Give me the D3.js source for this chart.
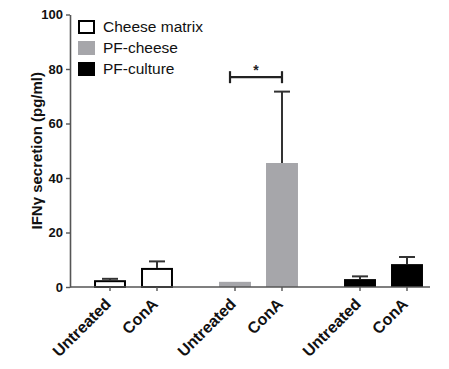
<!DOCTYPE html>
<html>
<head>
<meta charset="utf-8">
<script src="https://cdn.jsdelivr.net/npm/d3@7"></script>
<style>
  body { margin: 0; background: #fff; }
  text { font-family: "Liberation Sans", Arial, Helvetica, sans-serif; }
</style>
</head>
<body>
<svg id="chart" width="449" height="369"></svg>
<script>
// IFN-gamma secretion by treatment group (mean + SEM, pg/ml)
const groups = ["Cheese matrix", "PF-cheese", "PF-culture"];
const treatments = ["Untreated", "ConA"];
const cheeseMatrix = [2.5, 7.0];
const pfCheese = [1.9, 45.5];
const pfCulture = [2.9, 8.4];
const cheeseMatrixSem = [0.5, 2.4];
const pfCheeseSem = [0, 26.2];
const pfCultureSem = [1.0, 2.6];
const yTicks = [0, 20, 40, 60, 80, 100];
const bracketLevel = 77;   // height of the significance bracket

const groupColors = ["#ffffff", "#a6a6aa", "#000000"];
const groupStrokes = ["#000000", "none", "none"];

const seriesMeans = [cheeseMatrix, pfCheese, pfCulture];
const seriesSems = [cheeseMatrixSem, pfCheeseSem, pfCultureSem];

const rows = [];
groups.forEach((g, gi) => {
  treatments.forEach((t, ti) => {
    rows.push({ group: g, gi, treatment: t, mean: seriesMeans[gi][ti], sem: seriesSems[gi][ti] });
  });
});

const svg = d3.select("#chart");
const axisX = 70, axisEnd = 430;

const x0 = d3.scaleBand().domain(groups).range([71, 446]).paddingInner(0).paddingOuter(0);
const x1 = d3.scaleBand().domain(treatments).range([0, x0.bandwidth()])
  .paddingInner(0.32).paddingOuter(0.49);
const y = d3.scaleLinear().domain([0, 100]).range([287, 14.5]);

const cx = d => x0(d.group) + x1(d.treatment) + x1.bandwidth() / 2;
const axisColor = "#555";

// Bars
svg.append("g").selectAll("rect").data(rows).join("rect")
  .attr("x", d => x0(d.group) + x1(d.treatment) + (d.gi === 0 ? 1 : 0))
  .attr("width", d => x1.bandwidth() - (d.gi === 0 ? 2 : 0))
  .attr("y", d => y(d.mean) + (d.gi === 0 ? 1 : 0))
  .attr("height", d => y(0) - y(d.mean) - (d.gi === 0 ? 1 : 0))
  .attr("fill", d => groupColors[d.gi])
  .attr("stroke", d => groupStrokes[d.gi])
  .attr("stroke-width", 2);

// Error bars (upper only)
const err = svg.append("g").attr("stroke", "#333").attr("stroke-width", 2)
  .selectAll("g").data(rows.filter(d => d.sem > 0)).join("g");
err.append("line")
  .attr("x1", cx).attr("x2", cx)
  .attr("y1", d => y(d.mean)).attr("y2", d => y(d.mean + d.sem));
err.append("line")
  .attr("x1", d => cx(d) - x1.bandwidth() / 4).attr("x2", d => cx(d) + x1.bandwidth() / 4)
  .attr("y1", d => y(d.mean + d.sem)).attr("y2", d => y(d.mean + d.sem));

// Y axis
const yAxis = svg.append("g")
  .attr("transform", `translate(${axisX},0)`)
  .call(d3.axisLeft(y).tickValues(yTicks).tickSize(4).tickSizeOuter(0).tickPadding(3));
yAxis.select(".domain").attr("stroke", axisColor).attr("stroke-width", 1.6);
yAxis.selectAll(".tick line").attr("stroke", axisColor).attr("stroke-width", 1.4);
yAxis.selectAll(".tick text")
  .attr("font-size", 13).attr("font-weight", "bold").attr("fill", "#111")
  .attr("font-family", "'Liberation Sans', Arial, sans-serif");

// X axis baseline and ticks
svg.append("line")
  .attr("x1", axisX).attr("x2", axisEnd)
  .attr("y1", y(0)).attr("y2", y(0))
  .attr("stroke", axisColor).attr("stroke-width", 1.6);
svg.append("g").selectAll("line").data(rows).join("line")
  .attr("x1", cx).attr("x2", cx)
  .attr("y1", y(0)).attr("y2", y(0) + 4)
  .attr("stroke", axisColor).attr("stroke-width", 1.4);

// X tick labels, rotated
svg.append("g").selectAll("text").data(rows).join("text")
  .attr("transform", d => `translate(${cx(d) - 2},${y(0) + 14}) rotate(-45)`)
  .attr("text-anchor", "end")
  .attr("dy", "0.35em")
  .attr("font-size", 16).attr("font-weight", "bold").attr("fill", "#111")
  .text(d => d.treatment);

// Y axis title
svg.append("text")
  .attr("transform", `translate(42,${y(50)}) rotate(-90)`)
  .attr("text-anchor", "middle")
  .attr("font-size", 15).attr("font-weight", "bold").attr("fill", "#111")
  .text("IFNγ secretion (pg/ml)");

// Significance bracket between PF-cheese Untreated and ConA
const pfRows = rows.filter(d => d.group === "PF-cheese");
const bx1 = cx(pfRows[0]) - 5, bx2 = cx(pfRows[1]);
const by = y(bracketLevel);
const br = svg.append("g").attr("stroke", "#222").attr("stroke-width", 2.2);
br.append("line").attr("x1", bx1).attr("x2", bx2).attr("y1", by).attr("y2", by);
br.append("line").attr("x1", bx1).attr("x2", bx1).attr("y1", by - 6).attr("y2", by + 6);
br.append("line").attr("x1", bx2).attr("x2", bx2).attr("y1", by - 6).attr("y2", by + 6);
svg.append("text")
  .attr("x", (bx1 + bx2) / 2).attr("y", by - 2)
  .attr("text-anchor", "middle")
  .attr("font-size", 14).attr("font-weight", "bold").attr("fill", "#222")
  .text("*");

// Legend
const legend = svg.append("g").attr("transform", "translate(78,20)")
  .selectAll("g").data(groups).join("g")
  .attr("transform", (d, i) => `translate(0,${i * 21})`);
legend.append("rect")
  .attr("x", 1).attr("y", 1).attr("width", 15).attr("height", 12)
  .attr("fill", (d, i) => groupColors[i])
  .attr("stroke", (d, i) => groupStrokes[i] === "none" ? groupColors[i] : "#000")
  .attr("stroke-width", 2);
legend.append("text")
  .attr("x", 25).attr("y", 7).attr("dy", "0.35em")
  .attr("font-size", 15.5).attr("fill", "#111")
  .text(d => d);
</script>
</body>
</html>
